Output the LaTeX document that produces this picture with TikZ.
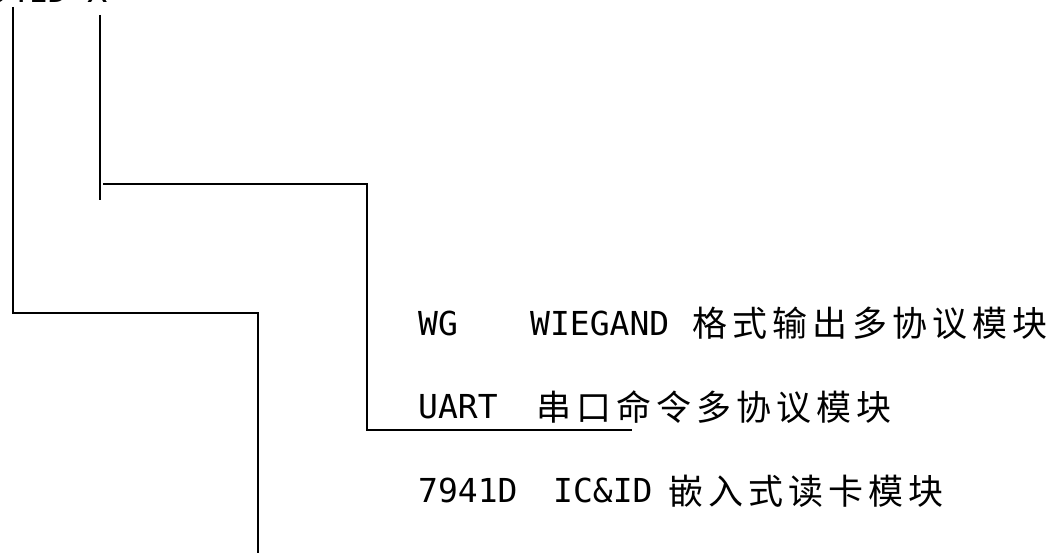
\documentclass[tikz,border=0pt]{standalone}
\usepackage{fontspec}
\newfontfamily\latinf{DejaVu Sans Mono}
\newfontfamily\cjkf{Noto Sans CJK SC}
\makeatletter
\newcommand\spreadcjk[1]{\@tfor\cjkch:=#1\do{\makebox[40pt][l]{\cjkch}}}
\makeatother
\tikzset{
  lat/.style={inner sep=0pt, anchor=base west, font=\latinf\fontsize{33}{40}\selectfont},
  han/.style={inner sep=0pt, anchor=base west, font=\cjkf\fontsize{35}{40}\selectfont},
  wire/.style={line width=1.4pt, draw=black}
}
\begin{document}
\begin{tikzpicture}[x=1pt,y=-1pt]
\useasboundingbox (0,0) rectangle (1052,553);
\clip (0,0) rectangle (1052,553);
% top (cut-off) label
\node[lat] (top) at (-32,3) {7941D X};
% coordinates
\coordinate (a0) at (13,7);
\coordinate (a1) at (13,313);
\coordinate (a2) at (258,313);
\coordinate (a3) at (258,560);
\coordinate (b0) at (100,15);
\coordinate (b1) at (100,200);
\coordinate (c0) at (103,184);
\coordinate (c1) at (367,184);
\coordinate (c2) at (367,430);
\coordinate (c3) at (632,430);
% connectors
\draw[wire] (a0) -- (a1) -- (a2) -- (a3);
\draw[wire] (b0) -- (b1);
\draw[wire] (c0) -- (c1) -- (c2) -- (c3);
% labels
\node[lat] (wg) at (418,335) {WG};
\node[lat] (wiegand) at (530,335) {WIEGAND};
\node[han] (h1) at (692,337) {\spreadcjk{格式输出多协议模块}};
\node[lat] (uart) at (418,418) {UART};
\node[han] (h2) at (536,420) {\spreadcjk{串口命令多协议模块}};
\node[lat] (ic) at (418,502) {7941D};
\node[lat] (icid) at (553,502) {IC\&ID};
\node[han] (h3) at (668,504) {\spreadcjk{嵌入式读卡模块}};
\end{tikzpicture}
\end{document}
